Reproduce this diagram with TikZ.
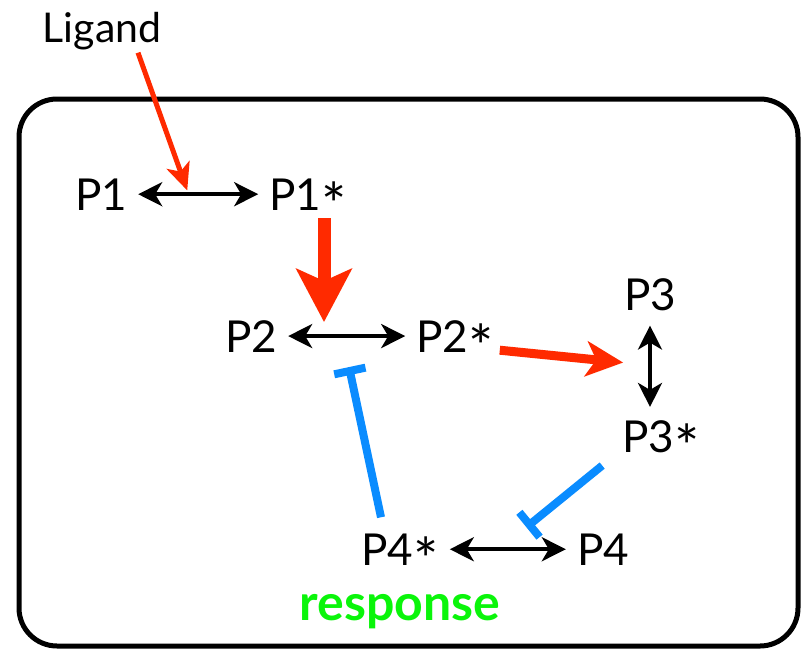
\documentclass[tikz,border=0pt]{standalone}
\usepackage{fontspec}
\setmainfont{Lato}
\usetikzlibrary{arrows.meta,calc}
\definecolor{sigred}{RGB}{255,42,0}
\definecolor{inhblue}{RGB}{10,140,255}
\definecolor{respgreen}{RGB}{10,245,10}
\newcommand{\bigstar}{\smash{\raisebox{-0.38em}{\scalebox{1.35}{*}}}}
\begin{document}
\begin{tikzpicture}[x=1pt,y=-1pt,
  plbl/.style={inner xsep=11pt,inner ysep=0pt,font=\fontsize{44}{48}\selectfont},
  dbl/.style={line width=4pt,{Stealth[length=24pt,width=24pt,inset=7pt]}-{Stealth[length=24pt,width=24pt,inset=7pt]}},
  ligarrow/.style={sigred,line width=5pt,-{Stealth[length=27pt,width=24pt,inset=7pt]}},
  bigarrow/.style={sigred,line width=13pt,-{Stealth[length=53pt,width=55pt,inset=12pt]}},
  medarrow/.style={sigred,line width=9pt,-{Stealth[length=37pt,width=35pt,inset=10pt]}},
  inhib/.style={inhblue,line width=8pt,-{Bar[width=32pt,line width=8pt]}}]
\useasboundingbox (0,0) rectangle (801,654);
\draw[line width=5pt,rounded corners=38pt] (19,99) rectangle (798,646);
\node[inner sep=0pt,anchor=base,font=\fontsize{41}{44}\selectfont] (lig) at (102,42) {Ligand};
\node[plbl,anchor=base] (p1) at (101,210) {P1};
\node[plbl,anchor=base] (p1s) at (308,210) {P1\bigstar};
\node[plbl,anchor=base] (p2) at (251,352) {P2};
\node[plbl,anchor=base] (p2s) at (455,352) {P2\bigstar};
\node[plbl,anchor=base] (p3) at (650,310) {P3};
\node[plbl,anchor=base] (p3s) at (661,452) {P3\bigstar};
\node[plbl,anchor=base] (p4s) at (400,565) {P4\bigstar};
\node[plbl,anchor=base] (p4) at (603,565) {P4};
\node[inner sep=0pt,anchor=base,text=respgreen,font=\fontsize{50}{54}\selectfont\bfseries] (resp) at (400,620) {response};
% reversible conversions
\draw[dbl] (p1.east) -- coordinate[pos=0.42] (m1) (p1s.west);
\draw[dbl] (p2.east) -- coordinate[pos=0.35] (m2) coordinate[pos=0.52] (m2b) (p2s.west);
\draw[dbl,shorten <=15pt,shorten >=13pt] (p3.south) -- coordinate[pos=0.5] (m3) (p3.south |- p3s.north);
\draw[dbl] (p4s.east) -- coordinate[pos=0.66] (m4) (p4.west);
% activations
\draw[ligarrow,shorten >=4pt] ($(lig.south)+(36,3)$) -- (m1);
\coordinate (b1) at ($(p1s.south)+(16,8)$);
\draw[bigarrow,shorten >=14pt] (b1) -- (b1 |- m2);
\draw[medarrow,shorten >=27pt] ($(p2s.south east)+(-5,-2)$) -- (m3);
% inhibitions
\draw[inhib] ($(p3s.south west)+(-9,13)$) -- ($(m4)+(0,-22)$);
\draw[inhib] ($(p4s.north)+(-19,-16)$) -- ($(m2b)+(0,31)$);
\end{tikzpicture}
\end{document}
